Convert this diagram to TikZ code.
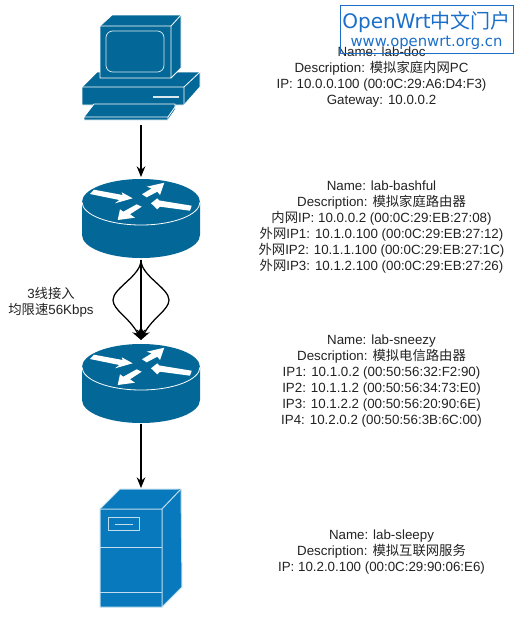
\documentclass[tikz,border=0pt]{standalone}
\usepackage{fontspec}
\setmainfont{Liberation Sans}
\newfontfamily\cjk{Noto Sans CJK SC}
\newfontfamily\logofont{DejaVu Sans}
\usetikzlibrary{arrows.meta}
\definecolor{ciscoblue}{HTML}{036897}
\definecolor{serverblue}{HTML}{0779BC}
\definecolor{logoblue}{HTML}{1C6FC9}
\definecolor{labelgray}{HTML}{222222}
\tikzset{
  iconface/.style={fill=ciscoblue,draw=white,line width=0.6pt,line join=round},
  serverface/.style={fill=serverblue,draw=white!75!serverblue,line width=0.75pt,line join=round},
  routerarrow/.style={fill=white,draw=none},
  infotext/.style={align=center,font=\fontsize{10}{12}\selectfont,text=labelgray,inner sep=0pt},
  logotext/.style={text=logoblue,inner sep=0pt},
  link/.style={-{Stealth[length=8pt,width=6.5pt]},line width=0.95pt},
}
\newcommand{\routericon}[1]{%
  \begin{scope}[shift={(141,#1)}]
    \fill[ciscoblue] (-59,1) -- (-59,34) arc[start angle=180,end angle=0,x radius=59,y radius=23] -- (59,1)
      arc[start angle=0,end angle=-180,x radius=59,y radius=23] -- cycle;
    \draw[white,line width=0.6pt] (-59,1) arc[start angle=180,end angle=0,x radius=59,y radius=23];
    \fill[routerarrow] (-51,-7) -- (-47,-11.3) -- (-18.3,-6) -- (-19.3,-8.7) -- (-8.3,-2.7) -- (-26,2.3) -- (-21.7,-1) -- cycle;
    \fill[routerarrow] (23.3,-18.3) -- (5.7,-14.3) -- (10.7,-12.7) -- (1,-6.7) -- (5.7,-3.7) -- (16.3,-9.3) -- (19,-6) -- cycle;
    \fill[routerarrow] (10,2.3) -- (16.3,-2.7) -- (18.5,-0.5) -- (50.7,4.7) -- (49,9.7) -- (19,5.7) -- (16.3,8.3) -- cycle;
    \fill[routerarrow] (-23.3,19) -- (-6,16.7) -- (-11,13.3) -- (0.7,5.7) -- (-4.3,3.3) -- (-17.7,10.7) -- (-21,8.3) -- cycle;
  \end{scope}}
\begin{document}
\begin{tikzpicture}[x=0.75pt,y=-0.75pt,>=stealth]
\useasboundingbox (0,0) rectangle (519,619);
% computer
\draw[iconface] (82,87) -- (97,72) -- (200,72) -- (200,87) -- (184,105) -- (82,105) -- cycle;
\draw[white,line width=0.6pt] (82,87) -- (184,87) -- (200,72) (184,87) -- (184,105);
\fill[white!85!ciscoblue] (153,96) rectangle (179,98);
\draw[iconface] (94,104) -- (175,104) -- (175,110) -- (168,120) -- (84,120) -- (84,117) -- cycle;
\draw[white,line width=0.6pt] (84,117) -- (168,117) -- (175,107) (168,117) -- (168,120);
\draw[iconface] (100,26) -- (112,15) -- (181,15) -- (181,68) -- (171,78) -- (100,78) -- cycle;
\draw[white,line width=0.6pt] (100,26) -- (171,26) -- (181,15) (171,26) -- (171,78);
\draw[white!85!ciscoblue,line width=0.6pt,rounded corners=5] (106,31) rectangle (164,72);
% routers
\routericon{201}
\routericon{366}
% server
\draw[serverface] (100,509) -- (120,489) -- (181,489) -- (182,587) -- (162,607) -- (100,607) -- cycle;
\draw[serverface] (100,509) -- (162,509) -- (181,489) (162,509) -- (162,607);
\draw[serverface] (100,547) -- (162,547) (100,592) -- (162,592);
\draw[serverface] (108,517) rectangle (139,530);
\draw[serverface] (115,524) -- (133,524);
% connectors
\coordinate (pcout) at (141,125);
\coordinate (bashfulin) at (141,177);
\coordinate (bashfulout) at (141,260);
\coordinate (sneezyin) at (141,340);
\coordinate (sneezyout) at (141,424);
\coordinate (sleepyin) at (141,488);
\draw[link] (pcout) -- (bashfulin);
\draw[link] (bashfulout) -- (sneezyin);
\draw[link] (bashfulout) .. controls (141,276) and (113,288) .. (113,300) .. controls (113,310) and (130,318) .. (sneezyin);
\draw[link] (bashfulout) .. controls (141,276) and (169,288) .. (169,300) .. controls (169,310) and (152,318) .. (sneezyin);
\draw[link] (sneezyout) -- (sleepyin);
% labels
\node[infotext] (linklabel) at (51,302.5) {3{\cjk 线接入}\\{\cjk 均限速}56Kbps};
\node[infotext] (docinfo) at (381.5,77.5) {Name: lab-doc\\Description: {\cjk 模拟家庭内网}PC\\IP: 10.0.0.100 (00:0C:29:A6:D4:F3)\\Gateway: 10.0.0.2};
\node[infotext] (bashfulinfo) at (381.5,227.5) {Name: lab-bashful\\Description: {\cjk 模拟家庭路由器}\\{\cjk 内网}IP: 10.0.0.2 (00:0C:29:EB:27:08)\\{\cjk 外网}IP1: 10.1.0.100 (00:0C:29:EB:27:12)\\{\cjk 外网}IP2: 10.1.1.100 (00:0C:29:EB:27:1C)\\{\cjk 外网}IP3: 10.1.2.100 (00:0C:29:EB:27:26)};
\node[infotext] (sneezyinfo) at (381.5,381.5) {Name: lab-sneezy\\Description: {\cjk 模拟电信路由器}\\IP1: 10.1.0.2 (00:50:56:32:F2:90)\\IP2: 10.1.1.2 (00:50:56:34:73:E0)\\IP3: 10.1.2.2 (00:50:56:20:90:6E)\\IP4: 10.2.0.2 (00:50:56:3B:6C:00)};
\node[infotext] (sleepyinfo) at (381.5,552.5) {Name: lab-sleepy\\Description: {\cjk 模拟互联网服务}\\IP: 10.2.0.100 (00:0C:29:90:06:E6)};
% logo
\node[draw=logoblue,line width=0.75pt,minimum width=129.75pt,minimum height=36pt] (logo) at (426.5,29) {};
\node[logotext,font=\logofont\fontsize{15}{16}\selectfont] (logotitle) at (426.5,22) {OpenWrt{\cjk 中文门户}};
\node[logotext,font=\logofont\fontsize{11.1}{12}\selectfont] (logourl) at (426.5,43) {www.openwrt.org.cn};
\end{tikzpicture}
\end{document}
